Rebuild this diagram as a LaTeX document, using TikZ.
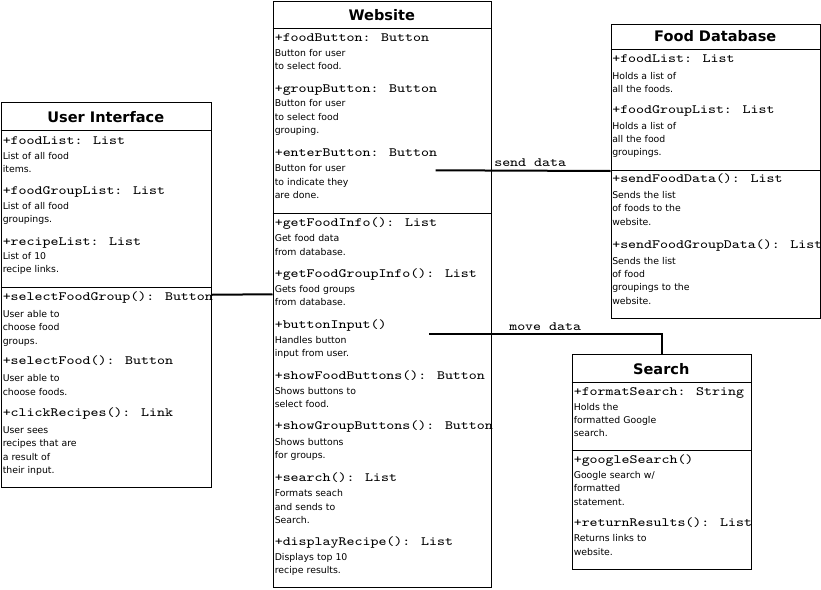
\documentclass[tikz,border=0pt]{standalone}
\usepackage{fontspec}
\usepackage{tikz}
\newfontfamily\memberfont[FakeStretch=1.2]{Latin Modern Mono}
\newfontfamily\notefont{DejaVu Sans}

\begin{document}
\begin{tikzpicture}[x=0.75pt,y=0.75pt,yscale=-1,
  classbox/.style={draw=black,line width=0.75pt,fill=white,inner sep=0pt,anchor=north west},
  classname/.style={anchor=base,inner sep=0pt,font=\notefont\bfseries\fontsize{10.9}{13}\selectfont},
  member/.style={anchor=base west,inner sep=0pt,font=\memberfont\fontsize{9.5}{12}\selectfont},
  memo/.style={anchor=base west,inner sep=0pt,text width=120pt,align=left,font=\notefont\fontsize{7}{10.05}\selectfont},
  link/.style={line width=1.5pt}]
%set diagram left start at 0, and has height of 589
\useasboundingbox (0,0) rectangle (821,589);

%Shape: Rectangle (User Interface)
\node (ui) [classbox,minimum width=210.5*0.75pt,minimum height=384.5*0.75pt] at (0.5,102) {};
%Shape: Rectangle (Website)
\node (web) [classbox,minimum width=218.5*0.75pt,minimum height=586.5*0.75pt] at (272.5,0.5) {};
%Shape: Rectangle (Food Database)
\node (fdb) [classbox,minimum width=209.5*0.75pt,minimum height=294*0.75pt] at (610.5,23.5) {};
%Shape: Rectangle (Search)
\node (search) [classbox,minimum width=179.5*0.75pt,minimum height=215*0.75pt] at (571.5,354) {};

%Straight Lines
\draw [line width=0.75pt] (0.5,130) -- (211,130) ;
\draw [line width=0.75pt] (0.5,287.5) -- (211,287.5) ;
\draw [line width=0.75pt] (272.5,28) -- (491,28) ;
\draw [line width=0.75pt] (272.5,213) -- (491,213) ;
\draw [line width=0.75pt] (610.5,49.5) -- (820,49.5) ;
\draw [line width=0.75pt] (610.5,170.5) -- (820,170.5) ;
\draw [line width=0.75pt] (571.5,382.5) -- (751,382.5) ;
\draw [line width=0.75pt] (571.5,450.5) -- (751,450.5) ;

% Text Node
\draw (105.75,122.5) node (uiname) [classname] {User Interface};
% Text Node
\draw (2.5,144.3) node (ui1) [member] {+foodList: List};
\draw (2.5,159.3) node (ui1d) [memo] {List of all food\\items.};
% Text Node
\draw (2.5,194.3) node (ui2) [member] {+foodGroupList: List};
\draw (2.5,209.3) node (ui2d) [memo] {List of all food\\groupings.};
% Text Node
\draw (2.5,245.7) node (ui3) [member] {+recipeList: List};
\draw (2.5,259.3) node (ui3d) [memo] {List of 10\\recipe links.};
% Text Node
\draw (2.5,300.7) node (ui4) [member] {+selectFoodGroup(): Button};
\draw (2.5,317.3) node (ui4d) [memo] {User able to\\choose food\\groups.};
% Text Node
\draw (2.5,364) node (ui5) [member] {+selectFood(): Button};
\draw (2.5,381.7) node (ui5d) [memo] {User able to\\choose foods.};
% Text Node
\draw (2.5,416.7) node (ui6) [member] {+clickRecipes(): Link};
\draw (2.5,433.3) node (ui6d) [memo] {User sees\\recipes that are\\a result of\\their input.};

% Text Node
\draw (381.75,20) node (webname) [classname] {Website};
% Text Node
\draw (274.5,41) node (web1) [member] {+foodButton: Button};
\draw (274.5,56) node (web1d) [memo] {Button for user\\to select food.};
% Text Node
\draw (274.5,92.3) node (web2) [member] {+groupButton: Button};
\draw (274.5,106.7) node (web2d) [memo] {Button for user\\to select food\\grouping.};
% Text Node
\draw (274.5,156.7) node (web3) [member] {+enterButton: Button};
\draw (274.5,171.7) node (web3d) [memo] {Button for user\\to indicate they\\are done.};
% Text Node
\draw (274.5,226.7) node (web4) [member] {+getFoodInfo(): List};
\draw (274.5,241.7) node (web4d) [memo] {Get food data\\from database.};
% Text Node
\draw (274.5,277.3) node (web5) [member] {+getFoodGroupInfo(): List};
\draw (274.5,292.3) node (web5d) [memo] {Gets food groups\\from database.};
% Text Node
\draw (274.5,328.3) node (web6) [member] {+buttonInput()};
\draw (274.5,343.3) node (web6d) [memo] {Handles button\\input from user.};
% Text Node
\draw (274.5,379) node (web7) [member] {+showFoodButtons(): Button};
\draw (274.5,394) node (web7d) [memo] {Shows buttons to\\select food.};
% Text Node
\draw (274.5,429.3) node (web8) [member] {+showGroupButtons(): Button};
\draw (274.5,445) node (web8d) [memo] {Shows buttons\\for groups.};
% Text Node
\draw (274.5,481.7) node (web9) [member] {+search(): List};
\draw (274.5,496.7) node (web9d) [memo] {Formats seach\\and sends to\\Search.};
% Text Node
\draw (274.5,545.7) node (web10) [member] {+displayRecipe(): List};
\draw (274.5,560) node (web10d) [memo] {Displays top 10\\recipe results.};

% Text Node
\draw (715.25,41) node (fdbname) [classname] {Food Database};
% Text Node
\draw (612,62.7) node (fdb1) [member] {+foodList: List};
\draw (612,79) node (fdb1d) [memo] {Holds a list of\\all the foods.};
% Text Node
\draw (612,113.3) node (fdb2) [member] {+foodGroupList: List};
\draw (612,129) node (fdb2d) [memo] {Holds a list of\\all the food\\groupings.};
% Text Node
\draw (612,182.3) node (fdb3) [member] {+sendFoodData(): List};
\draw (612,198.3) node (fdb3d) [memo] {Sends the list\\of foods to the\\website.};
% Text Node
\draw (612,248.3) node (fdb4) [member] {+sendFoodGroupData(): List};
\draw (612,264) node (fdb4d) [memo] {Sends the list\\of food\\groupings to the\\website.};

% Text Node
\draw (661.25,374.3) node (searchname) [classname] {Search};
% Text Node
\draw (573.5,395) node (search1) [member] {+formatSearch: String};
\draw (573.5,410) node (search1d) [memo] {Holds the\\formatted Google\\search.};
% Text Node
\draw (573.5,463.3) node (search2) [member] {+googleSearch()};
\draw (573.5,478.3) node (search2d) [memo] {Google search w/\\formatted\\statement.};
% Text Node
\draw (573.5,526.7) node (search3) [member] {+returnResults(): List};
\draw (573.5,541.7) node (search3d) [memo] {Returns links to\\website.};

%Straight Lines
\draw [link] (ui.east) -- (web.west) ;
%Straight Lines
\coordinate (sendfrom) at (435.5,170.3) ;
\draw [link] (sendfrom) -- (fdb.west) ;
\draw (494,166.7) node (sendlabel) [member] {send data};
%Straight Lines
\coordinate (movefrom) at (429,334.3) ;
\draw [link] (movefrom) -| (search.north) ;
\draw (509,330) node (movelabel) [member] {move data};

\end{tikzpicture}
\end{document}
